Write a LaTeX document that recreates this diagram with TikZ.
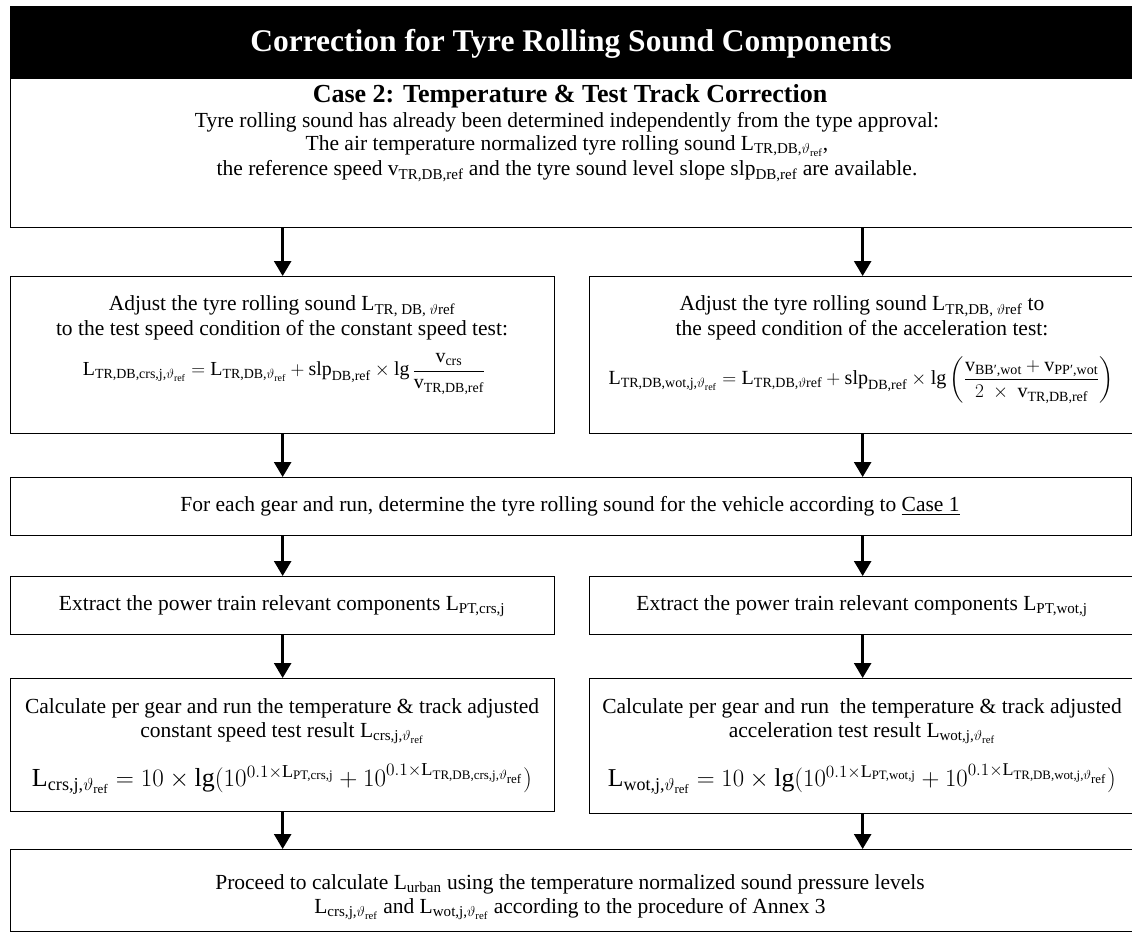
\documentclass[tikz,border=0pt]{standalone}
\usepackage{amsmath}
\usepackage{graphicx}
\usepackage{fontspec}
\setmainfont{Liberation Serif}
\usetikzlibrary{arrows.meta}
\newcommand{\tx}[1]{\text{#1}}
\newcommand{\fw}[2]{\resizebox{#1}{!}{#2}}
\begin{document}
\begin{tikzpicture}[x=1pt,y=-1pt,
  box/.style={draw=black,line width=1.3pt,inner sep=0pt,anchor=north west},
  arr/.style={line width=2.6pt,-{Triangle[width=17pt,length=15pt]}},
  txt/.style={font=\fontsize{21.5}{23}\selectfont,inner sep=0pt,anchor=center},
]
\useasboundingbox (0,0) rectangle (1132,936);
\clip (0,0) rectangle (1132,936);

% title bar and top box
\node[fill=black,inner sep=0pt,anchor=north west,minimum width=1130pt,minimum height=72pt] (bar) at (10,6) {};
\node[font=\fontsize{31.5}{36}\selectfont\bfseries,text=white,inner sep=0pt] (title) at (571,44) {Correction for Tyre Rolling Sound Components};
\node[box,minimum width=1130pt,minimum height=149pt] (top) at (10,78) {};
\node[font=\fontsize{26}{30}\selectfont\bfseries,inner sep=0pt] (case) at (570,96) {Case 2: Temperature \& Test Track Correction};
\node[txt] (t1) at (567,122) {Tyre rolling sound has already been determined independently from the type approval:};
\node[txt] (t2) at (567,146) {The air temperature normalized tyre rolling sound L$_{\text{TR,DB,}\vartheta_{\text{ref}}}$,};
\node[txt] (t3) at (567,171) {the reference speed v\textsubscript{TR,DB,ref} and the tyre sound level slope slp\textsubscript{DB,ref} are available.};

% second row
\node[box,minimum width=544pt,minimum height=157pt] (b2l) at (10,276) {};
\node[box,minimum width=546pt,minimum height=157pt] (b2r) at (589,276) {};
\node[txt] (l1) at (282,306) {Adjust the tyre rolling sound L\textsubscript{TR, DB, $\vartheta$ref}};
\node[txt] (l2) at (282,330) {to the test speed condition of the constant speed test:};
\node[txt] (lf) at (284,374) {\fw{402pt}{$\tx{L}_{\tx{TR,DB,crs,j,}\vartheta_{\tx{ref}}} = \tx{L}_{\tx{TR,DB,}\vartheta_{\tx{ref}}} + \tx{slp}_{\tx{DB,ref}} \times \tx{lg}\,\dfrac{\tx{v}_{\tx{crs}}}{\tx{v}_{\tx{TR,DB,ref}}}$}};
\node[txt] (r1) at (862,306) {Adjust the tyre rolling sound L\textsubscript{TR,DB, $\vartheta$ref} to};
\node[txt] (r2) at (862,330) {the speed condition of the acceleration test:};
\node[txt] (rf) at (861,380) {\fw{505pt}{$\tx{L}_{\tx{TR,DB,wot,j,}\vartheta_{\tx{ref}}} = \tx{L}_{\tx{TR,DB,}\vartheta\tx{ref}} + \tx{slp}_{\tx{DB,ref}} \times \tx{lg}\left(\dfrac{\tx{v}_{\tx{BB′,wot}} + \tx{v}_{\tx{PP′,wot}}}{2\ \times\ \tx{v}_{\tx{TR,DB,ref}}}\right)$}};

% case 1 row
\node[box,minimum width=1121pt,minimum height=58pt] (c1) at (10,477) {};
\node[txt] (c1t) at (570,506) {For each gear and run, determine the tyre rolling sound for the vehicle according to \underline{Case 1}};

% extract row
\node[box,minimum width=544pt,minimum height=58pt] (exl) at (10,576) {};
\node[box,minimum width=546pt,minimum height=58pt] (exr) at (589,576) {};
\node[txt] (exlt) at (282,606) {Extract the power train relevant components L\textsubscript{PT,crs,j}};
\node[txt] (exrt) at (862,606) {Extract the power train relevant components L\textsubscript{PT,wot,j}};

% calculate row
\node[box,minimum width=544pt,minimum height=133pt] (cl) at (10,678) {};
\node[box,minimum width=546pt,minimum height=135pt] (cr) at (589,678) {};
\node[txt] (cl1) at (282,708) {Calculate per gear and run the temperature \& track adjusted};
\node[txt] (cl2) at (282,733) {constant speed test result L$_{\text{crs,j,}\vartheta_{\text{ref}}}$};
\node[txt] (clf) at (282,779) {\fw{500pt}{$\tx{L}_{\tx{crs,j,}\vartheta_{\tx{ref}}} = 10 \times \tx{lg}(10^{0.1\times \tx{L}_{\tx{PT,crs,j}}} + 10^{0.1\times\tx{L}_{\tx{TR,DB,crs,j,}\vartheta_{\tx{ref}}}})$}};
\node[txt] (cr1) at (862,708) {Calculate per gear and run\ \ the temperature \& track adjusted};
\node[txt] (cr2) at (862,733) {acceleration test result L$_{\text{wot,j,}\vartheta_{\text{ref}}}$};
\node[txt] (crf) at (862,779) {\fw{508pt}{$\tx{L}_{\tx{wot,j,}\vartheta_{\tx{ref}}} = 10 \times \tx{lg}(10^{0.1\times \tx{L}_{\tx{PT,wot,j}}} + 10^{0.1\times\tx{L}_{\tx{TR,DB,wot,j,}\vartheta_{\tx{ref}}}})$}};

% final box
\node[box,minimum width=1130pt,minimum height=82pt] (fin) at (10,849) {};
\node[txt] (f1) at (570,884) {Proceed to calculate L\textsubscript{urban} using the temperature normalized sound pressure levels};
\node[txt] (f2) at (570,909) {L$_{\text{crs,j,}\vartheta_{\text{ref}}}$ and L$_{\text{wot,j,}\vartheta_{\text{ref}}}$ according to the procedure of Annex 3};

% connectors
\draw[arr] (b2l.north |- top.south) -- (b2l.north);
\draw[arr] (b2r.north |- top.south) -- (b2r.north);
\draw[arr] (b2l.south) -- (b2l.south |- c1.north);
\draw[arr] (b2r.south) -- (b2r.south |- c1.north);
\draw[arr] (exl.north |- c1.south) -- (exl.north);
\draw[arr] (exr.north |- c1.south) -- (exr.north);
\draw[arr] (exl.south) -- (cl.north);
\draw[arr] (exr.south) -- (cr.north);
\draw[arr] (cl.south) -- (cl.south |- fin.north);
\draw[arr] (cr.south) -- (cr.south |- fin.north);
\end{tikzpicture}
\end{document}
